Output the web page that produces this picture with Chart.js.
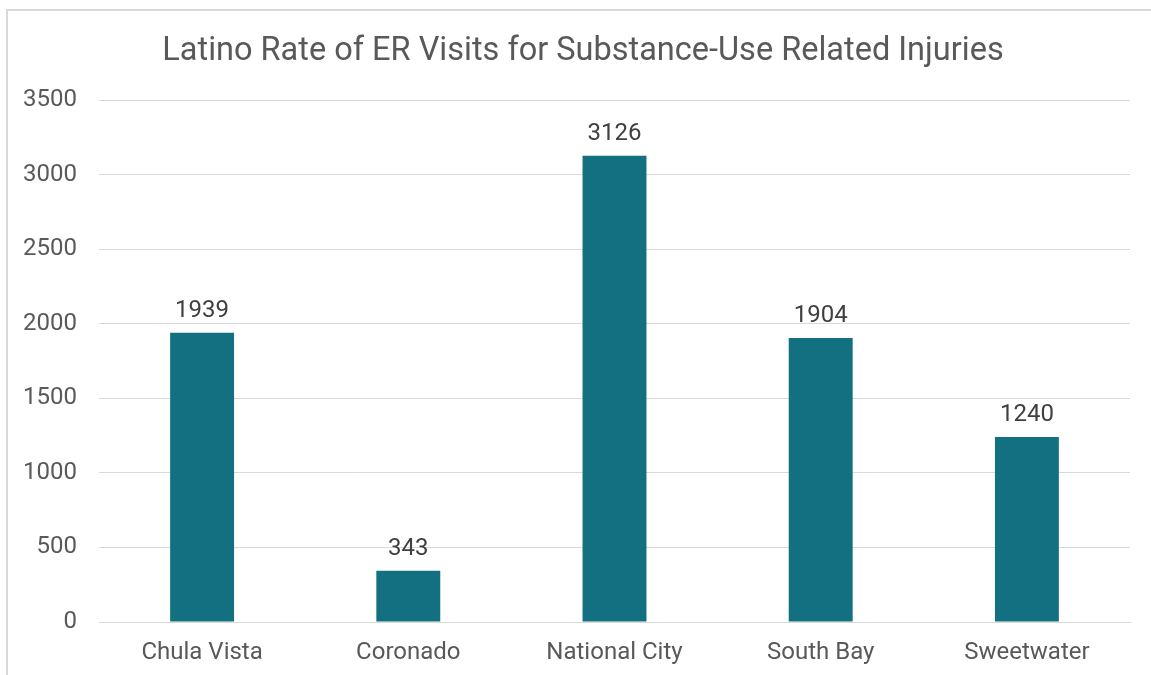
<!DOCTYPE html>
<html>
<head>
<meta charset="utf-8">
<script src="https://cdn.jsdelivr.net/npm/chart.js@4.4.0/dist/chart.umd.min.js"></script>
<style>
  html, body { margin: 0; padding: 0; background: #fff; overflow: hidden; }
  #frame {
    position: absolute; left: 6px; top: 9px; width: 1200px; height: 700px;
    border-left: 2px solid #d9d9d9; border-top: 2px solid #d9d9d9;
  }
  #wrap { position: absolute; left: 0; top: 0; width: 1166px; height: 675px; }
</style>
</head>
<body>
<div id="frame"></div>
<div id="wrap"><canvas id="erChart"></canvas></div>
<script>
// Chart data
const regions = ['Chula Vista', 'Coronado', 'National City', 'South Bay', 'Sweetwater'];
const visitRates = [1939, 343, 3126, 1904, 1240];
const yTicks = [0, 500, 1000, 1500, 2000, 2500, 3000, 3500];

const textColor = '#595959';
const gridColor = '#d9d9d9';
const barColor = '#137080';

// Draw the value above each bar
const valueLabels = {
    id: 'valueLabels',
    afterDatasetsDraw(chart) {
        const ctx = chart.ctx;
        const meta = chart.getDatasetMeta(0);
        ctx.save();
        ctx.font = '24px Roboto';
        ctx.fillStyle = '#404040';
        ctx.textAlign = 'center';
        ctx.textBaseline = 'alphabetic';
        meta.data.forEach((bar, i) => {
            ctx.fillText(String(visitRates[i]), bar.x, bar.y - 16);
        });
        ctx.restore();
    }
};

const ctx = document.getElementById('erChart').getContext('2d');

new Chart(ctx, {
    type: 'bar',
    data: {
        labels: regions,
        datasets: [{
            data: visitRates,
            backgroundColor: barColor,
            borderWidth: 0,
            barPercentage: 0.62,
            categoryPercentage: 0.5
        }]
    },
    options: {
        responsive: true,
        maintainAspectRatio: false,
        animation: false,
        layout: { padding: 0 },
        scales: {
            y: {
                min: 0,
                max: 3500,
                afterBuildTicks: (scale) => { scale.ticks = yTicks.map(v => ({ value: v })); },
                afterFit: (scale) => { scale.width = 99; },
                border: { display: false },
                grid: { color: gridColor, lineWidth: 1, drawTicks: false },
                ticks: {
                    color: textColor,
                    font: { family: 'Roboto', size: 24 },
                    padding: 22,
                    callback: (v) => String(v)
                }
            },
            // empty right margin so the title centres like the original
            yRight: {
                type: 'linear',
                position: 'right',
                afterFit: (scale) => { scale.width = 36; },
                border: { display: false },
                grid: { display: false, drawTicks: false },
                ticks: { display: false }
            },
            x: {
                afterFit: (scale) => { scale.height = 53; },
                border: { color: gridColor, width: 1 },
                grid: { display: false, drawTicks: false },
                ticks: { color: textColor, font: { family: 'Roboto', size: 24 }, padding: 17 }
            }
        },
        plugins: {
            legend: { display: false },
            tooltip: { enabled: false },
            title: {
                display: true,
                text: 'Latino Rate of ER Visits for Substance-Use Related Injuries',
                color: textColor,
                font: { family: 'Roboto', size: 32.5, weight: 'normal' },
                padding: { top: 32, bottom: 29 }
            }
        }
    },
    plugins: [valueLabels]
});
</script>
</body>
</html>
